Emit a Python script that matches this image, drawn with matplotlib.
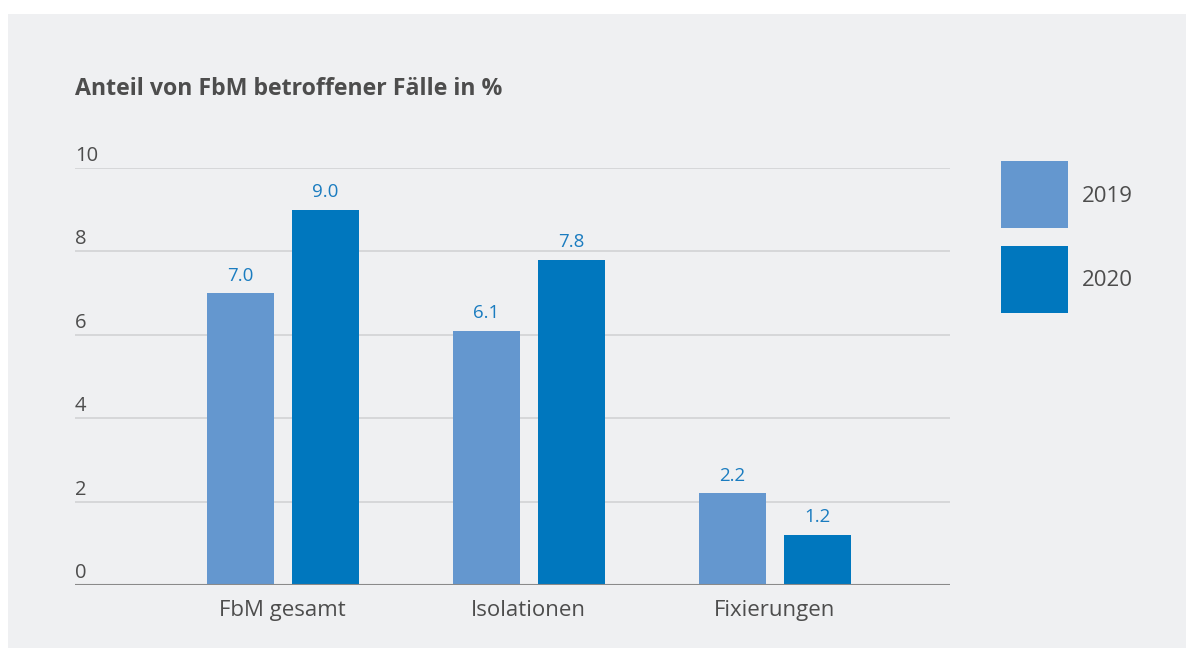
import numpy as np
import matplotlib.pyplot as plt
from matplotlib.patches import Rectangle
import matplotlib.transforms as mtransforms

plt.rcParams['font.family'] = ['Open Sans', 'DejaVu Sans']

categories = ["FbM gesamt", "Isolationen", "Fixierungen"]
years = ["2019", "2020"]
values_2019 = [7.0, 6.1, 2.2]
values_2020 = [9.0, 7.8, 1.2]
y_ticks = [0, 2, 4, 6, 8, 10]

col_2019 = "#6497cf"
col_2020 = "#0077be"
bg = "#eff0f2"
txt = "#4d4d4d"
lbl = "#1a7cc0"

W, H = 1186, 648
fig = plt.figure(figsize=(W / 100, H / 100), dpi=100)
fig.patch.set_facecolor("white")
fig.add_artist(Rectangle((8 / W, 0), 1 - 8 / W, 1 - 14 / H,
                         transform=fig.transFigure, facecolor=bg,
                         edgecolor="none", zorder=0))

ax = fig.add_axes([75 / W, 63 / H, 875 / W, 417 / H])
ax.set_facecolor("none")

x = np.arange(len(categories))
bw = 0.272
off = 0.173
b1 = ax.bar(x - off, values_2019, bw, color=col_2019, zorder=3)
b2 = ax.bar(x + off, values_2020, bw, color=col_2020, zorder=3)

for bars, vals in [(b1, values_2019), (b2, values_2020)]:
    for rect, v in zip(bars, vals):
        ax.annotate(f"{v:.1f}", (rect.get_x() + rect.get_width() / 2, v),
                    xytext=(0, 9), textcoords="offset points",
                    ha="center", va="baseline", fontsize=13.5, color=lbl)

ax.set_xlim(-0.845, 2.713)
ax.set_ylim(0, 10)

for t in y_ticks[1:]:
    ax.axhline(t, color="#d2d3d5", lw=1.2, zorder=1)
ax.axhline(0, color="#8a8a8a", lw=1.5, zorder=4)

# y tick labels sitting above the gridlines
trans = mtransforms.offset_copy(ax.get_yaxis_transform(), fig=fig, x=0, y=5, units="points")
for t in y_ticks:
    ax.text(0, t, str(t), transform=trans, ha="left", va="baseline",
            fontsize=14.5, color=txt)

ax.set_yticks([])
ax.set_xticks(x)
ax.set_xticklabels(categories, fontsize=16, color=txt)
ax.tick_params(axis="x", length=0, pad=11)
for s in ax.spines.values():
    s.set_visible(False)

fig.text(75 / W, 1 - 89 / H, "Anteil von FbM betroffener Fälle in %",
         fontsize=16.7, fontweight="bold", color=txt, ha="left", va="center")

# legend
for i, (yr, c) in enumerate(zip(years, [col_2019, col_2020])):
    top = 161 + i * 85
    fig.add_artist(Rectangle((1001 / W, 1 - (top + 67) / H), 67 / W, 67 / H,
                             transform=fig.transFigure, facecolor=c,
                             edgecolor="none"))
    fig.text(1082 / W, 1 - (top + 35) / H, yr, fontsize=16, color=txt,
             ha="left", va="center")

fig.savefig("out.png", dpi=100, facecolor=fig.get_facecolor())
